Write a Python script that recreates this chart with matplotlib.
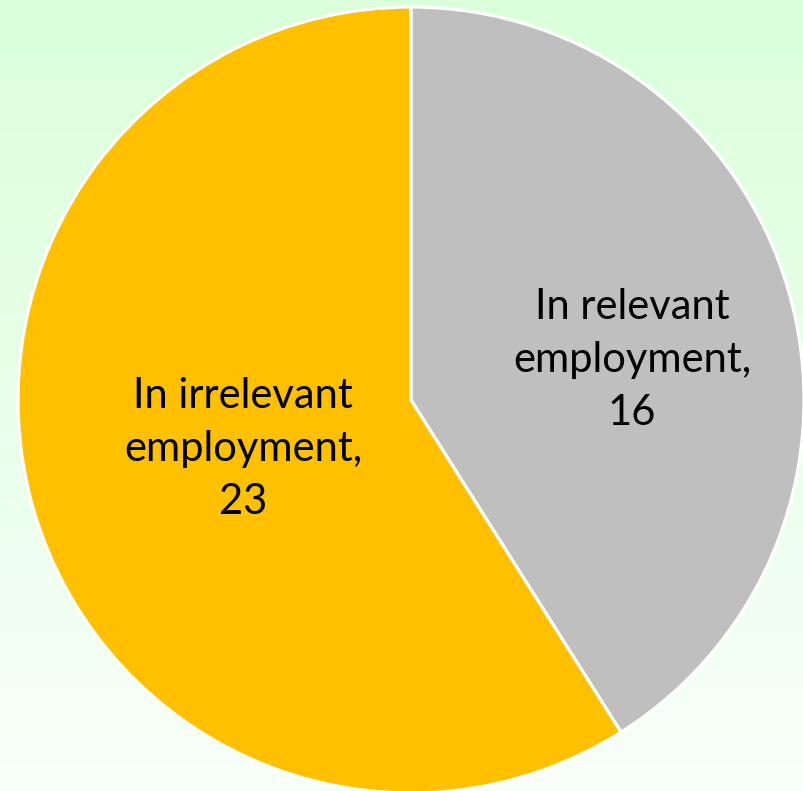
import numpy as np
import matplotlib
matplotlib.use("Agg")
import matplotlib.pyplot as plt
from matplotlib.colors import LinearSegmentedColormap

# data
categories = ["In relevant\nemployment,\n16", "In irrelevant\nemployment,\n23"]
values = [16, 23]
colors = ["#BFBFBF", "#FFC000"]

W, H = 804, 791
fig = plt.figure(figsize=(W / 100, H / 100), dpi=100)
ax = fig.add_axes([0, 0, 1, 1])

# soft green-to-white vertical background
bg = LinearSegmentedColormap.from_list("bg", ["#DAFFDA", "#F8FFF9"])
grad = np.linspace(0, 1, 256).reshape(-1, 1)
ax.imshow(grad, cmap=bg, extent=(0, W, 0, H), aspect="auto", origin="upper", zorder=0)

wedges, texts = ax.pie(
    values,
    labels=categories,
    colors=colors,
    startangle=90,
    counterclock=False,
    center=(411, H - 400),
    radius=393,
    labeldistance=175 / 393,
    wedgeprops=dict(edgecolor="white", linewidth=2.3),
    textprops=dict(fontsize=30, family="Lato", color="black",
                   ha="center", va="center", linespacing=1.47),
    frame=True,
)
for t in texts:
    t.set_horizontalalignment("center")
    t.set_verticalalignment("center")
# relevant label sits a bit higher than the wedge mid-angle
texts[0].set_position((632, H - 360))
texts[1].set_position((243, H - 449))

ax.set_xlim(0, W)
ax.set_ylim(0, H)
ax.set_aspect("equal")
ax.axis("off")

fig.savefig("out.png", dpi=100)
